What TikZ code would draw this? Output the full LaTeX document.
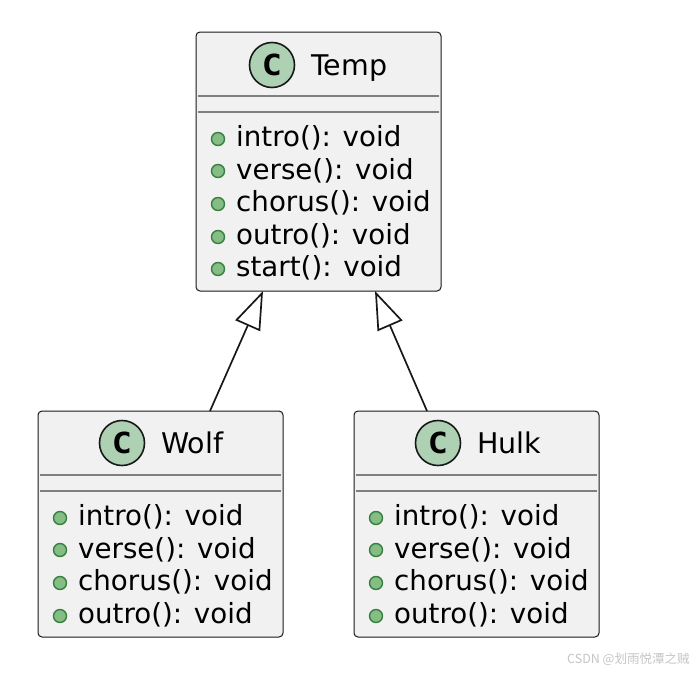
\documentclass[tikz,border=0pt]{standalone}
\usepackage{fontspec}
\setmainfont{DejaVu Sans}
\newfontfamily\cmono[FakeStretch=1.15]{DejaVu Sans Mono}
\newfontfamily\cjkwm{Noto Sans CJK SC}
\usetikzlibrary{arrows.meta,calc}
\definecolor{boxfill}{HTML}{F1F1F1}
\definecolor{boxline}{HTML}{181818}
\definecolor{sepline}{HTML}{7F7F7F}
\definecolor{badge}{HTML}{ADD1B2}
\definecolor{dotfill}{HTML}{84BE84}
\definecolor{dotline}{HTML}{38803F}
\definecolor{wm}{HTML}{C4C4C4}
\tikzset{
  umlbox/.style={draw=boxline,fill=boxfill,line width=1pt,rounded corners=4pt,
    minimum width=245pt,anchor=north west,inner sep=0pt,outer sep=0pt},
  sepbar/.style={draw=sepline,line width=1.6pt},
  classbadge/.style={circle,draw=boxline,fill=badge,line width=1.6pt,minimum size=45pt,
    inner sep=0pt,font=\cmono\bfseries\fontsize{29}{29}\selectfont},
  titletext/.style={anchor=base west,inner sep=0pt,font=\fontsize{28.5}{28.5}\selectfont,text=black},
  membertext/.style={anchor=base west,inner sep=0pt,font=\fontsize{27.7}{28}\selectfont,text=black},
  memberdot/.style={circle,draw=dotline,fill=dotfill,line width=1.4pt,minimum size=13pt,inner sep=0pt},
  inherits/.style={draw=boxline,line width=1.7pt,
    {Triangle[open,fill=white,length=38pt,width=27pt,line width=1.7pt]}-}
}
\begin{document}
\begin{tikzpicture}[x=1pt,y=-1pt]
\useasboundingbox (0,0) rectangle (696,672);
% Temp
\node[umlbox,minimum height=259pt] (temp) at (196,32) {};
\draw[sepbar] ($(temp.north west)+(2,64)$) -- ($(temp.north east)+(-2,64)$);
\draw[sepbar] ($(temp.north west)+(2,80)$) -- ($(temp.north east)+(-2,80)$);
\node[classbadge] (tempc) at (272,65) {C};
\node[titletext] (tempt) at (311,75) {Temp};
\node[memberdot] (td1) at (218,139) {};
\node[memberdot] (td2) at (218,171) {};
\node[memberdot] (td3) at (218,204) {};
\node[memberdot] (td4) at (218,237) {};
\node[memberdot] (td5) at (218,269) {};
\node[membertext] (tm1) at (236,146) {intro(): void};
\node[membertext] (tm2) at (236,179) {verse(): void};
\node[membertext] (tm3) at (236,211) {chorus(): void};
\node[membertext] (tm4) at (236,244) {outro(): void};
\node[membertext] (tm5) at (236,276) {start(): void};
% Wolf
\node[umlbox,minimum height=226pt] (wolf) at (38,411) {};
\draw[sepbar] ($(wolf.north west)+(2,64)$) -- ($(wolf.north east)+(-2,64)$);
\draw[sepbar] ($(wolf.north west)+(2,80)$) -- ($(wolf.north east)+(-2,80)$);
\node[classbadge] (wolfc) at (122,443) {C};
\node[titletext] (wolft) at (161,453) {Wolf};
\node[memberdot] (wd1) at (60,518) {};
\node[memberdot] (wd2) at (60,550) {};
\node[memberdot] (wd3) at (60,583) {};
\node[memberdot] (wd4) at (60,616) {};
\node[membertext] (wm1) at (78,525) {intro(): void};
\node[membertext] (wm2) at (78,558) {verse(): void};
\node[membertext] (wm3) at (78,590) {chorus(): void};
\node[membertext] (wm4) at (78,623) {outro(): void};
% Hulk
\node[umlbox,minimum height=226pt] (hulk) at (354,411) {};
\draw[sepbar] ($(hulk.north west)+(2,64)$) -- ($(hulk.north east)+(-2,64)$);
\draw[sepbar] ($(hulk.north west)+(2,80)$) -- ($(hulk.north east)+(-2,80)$);
\node[classbadge] (hulkc) at (438,443) {C};
\node[titletext] (hulkt) at (477,453) {Hulk};
\node[memberdot] (hd1) at (376,518) {};
\node[memberdot] (hd2) at (376,550) {};
\node[memberdot] (hd3) at (376,583) {};
\node[memberdot] (hd4) at (376,616) {};
\node[membertext] (hm1) at (394,525) {intro(): void};
\node[membertext] (hm2) at (394,558) {verse(): void};
\node[membertext] (hm3) at (394,590) {chorus(): void};
\node[membertext] (hm4) at (394,623) {outro(): void};
% Inheritance
\draw[inherits] ($(temp.south west)+(67,0)$) -- ($(wolf.north west)+(172,0)$);
\draw[inherits] ($(temp.south west)+(179,0)$) -- ($(hulk.north west)+(73,0)$);
% Watermark
\node[anchor=base west,inner sep=0pt,text=wm,font=\cjkwm\fontsize{12.5}{12.5}\selectfont] (wmark) at (567,663) {CSDN @划雨悦潭之贼};
\end{tikzpicture}
\end{document}
